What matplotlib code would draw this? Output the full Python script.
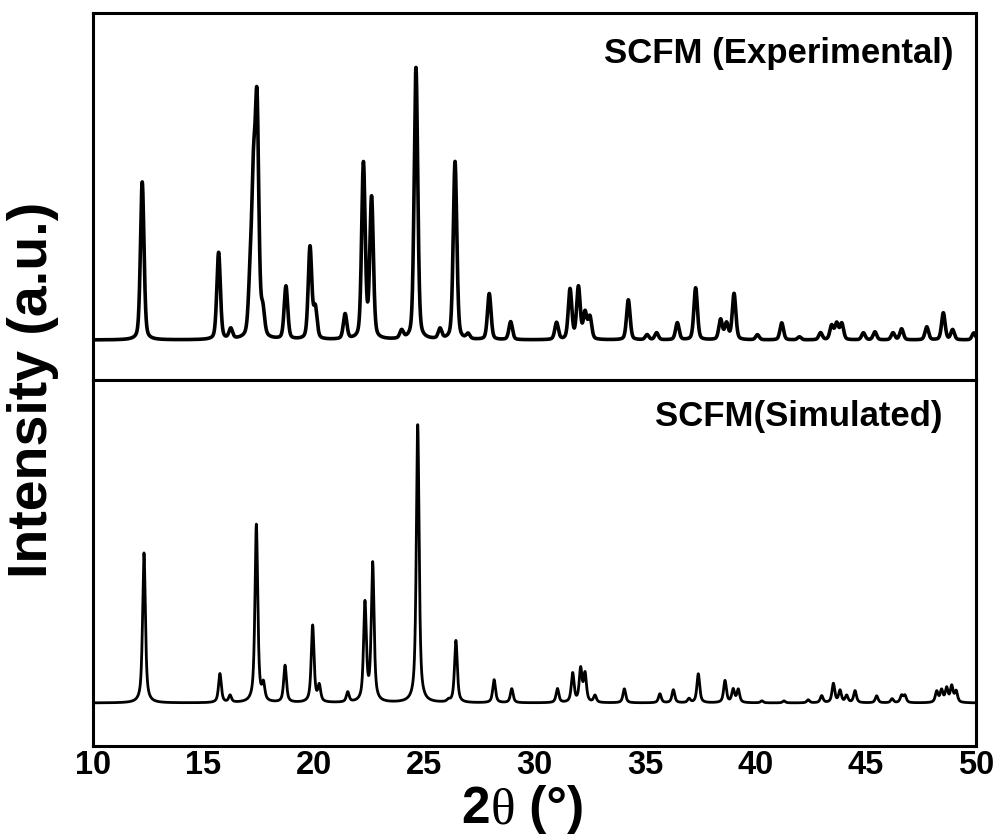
import numpy as np
import matplotlib.pyplot as plt

plt.rcParams['font.family'] = ['Liberation Sans', 'DejaVu Sans']
plt.rcParams['font.weight'] = 'bold'

# peak list: 2theta (deg), height (a.u.)
exp_pos = [12.23, 15.69, 16.24, 17.12, 17.27, 17.43, 17.69, 18.74, 19.83, 20.07,
           21.42, 22.25, 22.62, 23.98, 24.63, 25.72, 26.40, 26.99, 27.95, 28.92,
           31.00, 31.61, 31.99, 32.29, 32.51, 34.25, 35.10, 35.53, 36.47, 37.30,
           38.43, 38.70, 39.04, 40.10, 41.20, 42.00, 42.96, 43.46, 43.69, 43.92,
           44.90, 45.42, 46.24, 46.63, 47.77, 48.52, 48.94, 49.90]
exp_int = [158, 87, 10, 50, 140, 222, 25, 53, 92, 30,
           25, 175, 140, 8, 272, 10, 178, 5, 46, 18,
           17, 50, 52, 26, 22, 40, 5, 7, 17, 52,
           20, 16, 46, 5, 17, 3, 7, 14, 16, 16,
           7, 8, 7, 11, 13, 27, 10, 7]

sim_pos = [12.31, 15.75, 16.21, 17.40, 17.72, 18.70, 19.95, 20.25, 21.54, 22.32,
           22.67, 24.71, 26.10, 26.44, 28.17, 28.97, 31.04, 31.73, 32.09, 32.29,
           32.74, 34.07, 35.68, 36.29, 37.00, 37.42, 38.63, 39.00, 39.23, 40.30,
           41.30, 42.40, 43.01, 43.54, 43.84, 44.14, 44.52, 45.50, 46.20, 46.63,
           46.78, 48.22, 48.44, 48.67, 48.90, 49.10]
sim_int = [150, 29, 7, 178, 16, 37, 77, 16, 10, 98,
           138, 278, 2, 62, 23, 14, 14, 29, 33, 28,
           7, 14, 9, 13, 4, 29, 22, 13, 13, 2,
           2, 3, 7, 19, 12, 7, 12, 7, 4, 7,
           7, 11, 12, 14, 16, 11]


def pattern(tt, pos, amp, fwhm, eta):
    y = np.zeros_like(tt)
    for p, a in zip(pos, amp):
        d = (tt - p) / (fwhm / 2)
        y += a * (eta / (1 + d**2) + (1 - eta) * np.exp(-np.log(2) * d**2))
    return y


tt = np.linspace(10, 50, 8001)
y_exp = pattern(tt, exp_pos, exp_int, 0.19, 0.35)
y_sim = pattern(tt, sim_pos, sim_int, 0.15, 0.7)

W, H = 998, 836
fig = plt.figure(figsize=(W / 100, H / 100), dpi=100)
l, r = 93 / W, 976 / W
top, mid, bot = 1 - 13 / H, 1 - 380 / H, 1 - 746 / H
ax1 = fig.add_axes([l, mid, r - l, top - mid])
ax2 = fig.add_axes([l, bot, r - l, mid - bot], sharex=ax1)

ax1.plot(tt, y_exp, color='black', lw=2.6)
ax2.plot(tt, y_sim, color='black', lw=2.0)
ax1.set_ylim(-40, 327)
ax2.set_ylim(-43, 323)
ax2.set_xlim(10, 50)
ax2.set_xticks(range(10, 51, 5))

for ax in (ax1, ax2):
    for s in ax.spines.values():
        s.set_linewidth(2.2)
    ax.set_yticks([])
    ax.tick_params(axis='x', length=0)
ax1.tick_params(axis='x', labelbottom=False)
ax2.tick_params(axis='x', labelsize=23.5, pad=3)
for lab in ax2.get_xticklabels():
    lab.set_fontweight('bold')

fig.text(953 / W, 1 - 63 / H, 'SCFM (Experimental)', fontsize=25, fontweight='bold',
         ha='right', va='baseline')
fig.text(943 / W, 1 - 426 / H, 'SCFM(Simulated)', fontsize=25, fontweight='bold',
         ha='right', va='baseline')

fig.text(33 / W, 1 - 390 / H, 'Intensity (a.u.)', fontsize=40, fontweight='bold',
         rotation=90, ha='center', va='center')

# x label: bold "2", serif theta, bold "(°)"
fig.canvas.draw()
rend = fig.canvas.get_renderer()
yb = 1 - 823 / H
x0 = 461 / W
t1 = fig.text(x0, yb, '2', fontsize=37, fontweight='bold', va='baseline')
bb = t1.get_window_extent(rend)
t2 = fig.text(bb.x1 / W + 1 / W, yb, 'θ', fontsize=37, fontweight='normal',
              family='Liberation Serif', va='baseline')
bb = t2.get_window_extent(rend)
fig.text(bb.x1 / W, yb, ' (°)', fontsize=37, fontweight='bold', va='baseline')

fig.savefig('out.png', dpi=100)
